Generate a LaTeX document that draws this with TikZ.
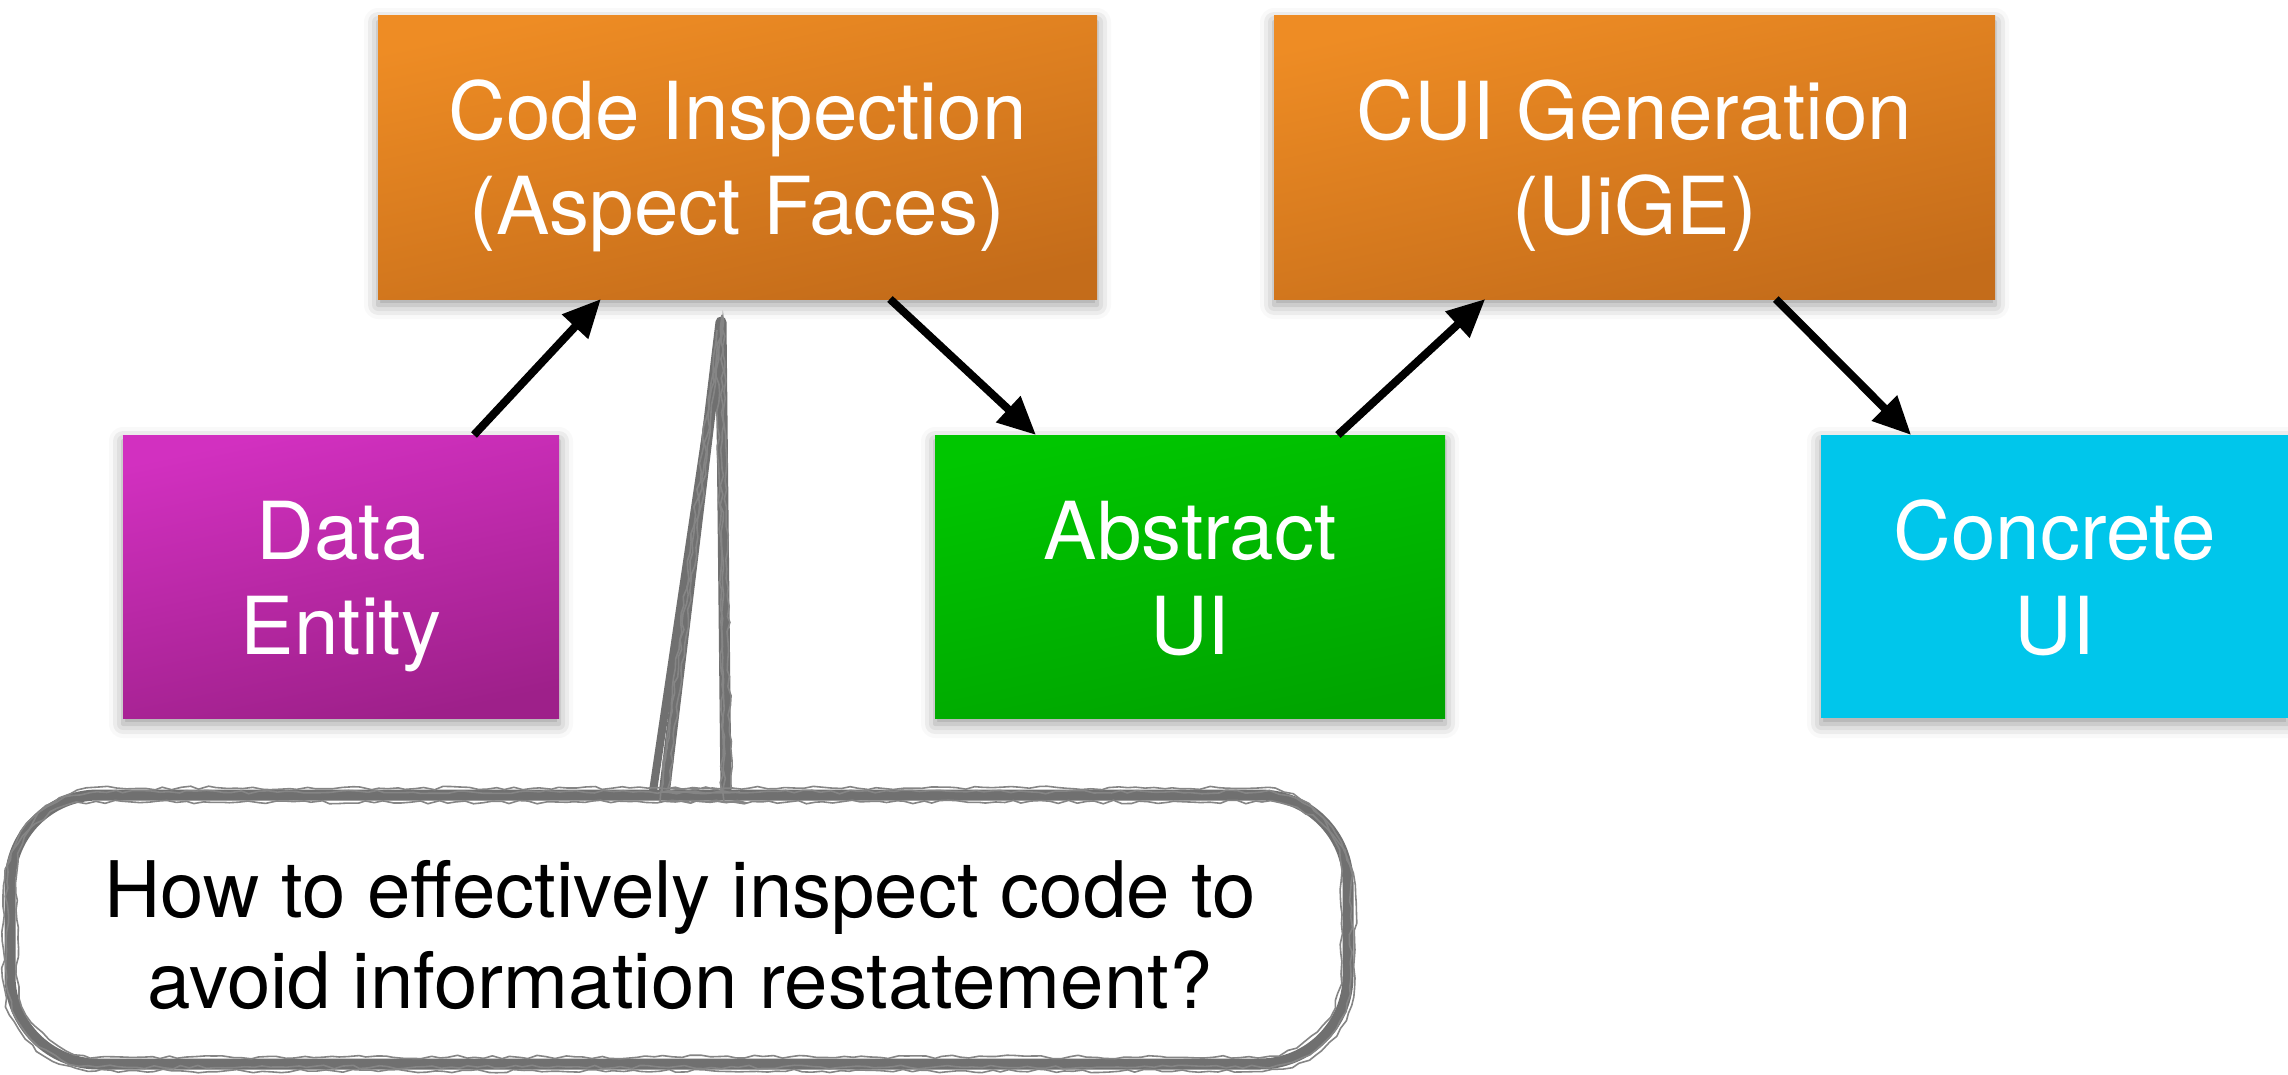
\documentclass[tikz,border=0pt]{standalone}
\usepackage{fontspec}
\setmainfont{TeX Gyre Heros}
\usetikzlibrary{arrows.meta,shadows.blur,decorations.pathmorphing,calc}
\definecolor{orA}{RGB}{238,140,36}
\definecolor{orB}{RGB}{196,108,26}
\definecolor{mgA}{RGB}{210,48,192}
\definecolor{mgB}{RGB}{158,32,138}
\definecolor{grA}{RGB}{0,198,0}
\definecolor{grB}{RGB}{0,164,0}
\definecolor{cyA}{RGB}{0,198,235}
\definecolor{bubgray}{RGB}{112,112,112}
\newcommand{\twoline}[2]{\raisebox{-11pt}[\height][\depth]{\begin{tabular}{@{}c@{}}#1\\#2\end{tabular}}}
\begin{document}
\begin{tikzpicture}[x=1pt,y=-1pt,
  box/.style={rectangle, inner sep=0pt, outer sep=0pt, minimum height=283pt,
    text=white, font=\fontsize{80}{95}\selectfont,
    blur shadow={shadow xshift=0pt, shadow yshift=-6pt, shadow blur radius=14pt, shadow opacity=40}},
  orbox/.style={box, top color=orA, bottom color=orB, shading angle=12},
  conn/.style={line width=8pt, -{Triangle[length=38pt,width=34pt]}},
  bub/.style={draw=bubgray, line width=11pt, line join=round, fill=white},
  sketch/.style={draw=bubgray!85, line width=1.6pt, decorate,
    decoration={random steps, segment length=9pt, amplitude=1.8pt}}]
\useasboundingbox (0,0) rectangle (2288,1075);

% boxes
\node[orbox, minimum width=719pt] (ci) at (737.5,157.5) {\twoline{Code Inspection}{(Aspect Faces)}};
\node[orbox, minimum width=721pt] (cg) at (1634.5,157.5) {\twoline{CUI Generation}{(UiGE)}};
\node[box, minimum width=436pt, top color=mgA, bottom color=mgB, shading angle=12] (de) at (341,576.5) {\twoline{Data}{Entity}};
\node[box, minimum width=510pt, top color=grA, bottom color=grB, shading angle=12] (au) at (1190,576.5) {\twoline{Abstract}{UI}};
\node[box, minimum width=467pt, fill=cyA] (cu) at (2054.5,576.5) {\twoline{Concrete}{UI}};

% connectors
\draw[conn] ($(de.north west)!0.805!(de.north east)$) -- ($(ci.south west)!0.31!(ci.south east)$);
\draw[conn] ($(ci.south west)!0.712!(ci.south east)$) -- ($(au.north west)!0.198!(au.north east)$);
\draw[conn] ($(au.north west)!0.79!(au.north east)$) -- ($(cg.south west)!0.293!(cg.south east)$);
\draw[conn] ($(cg.south west)!0.696!(cg.south east)$) -- ($(cu.north west)!0.193!(cu.north east)$);

% callout bubble
\pgfmathsetseed{7}
\path[bub] (664,795) -- (721,322) -- (726,795) -- (727,795) [rounded corners=88pt] -- (1348,795) -- (1348,1064) -- (10,1064) -- (10,795) -- (650,795) [sharp corners] -- cycle;
\draw[bubgray, line width=8pt, line join=round] (652,798) -- (708,420);
\path[sketch] (660,802) -- (717,330) -- (724,802) -- (725,802) [rounded corners=93pt] -- (1355,802) -- (1355,1071) -- (3,1071) -- (3,802) -- (650,802) [sharp corners] -- cycle;
\path[sketch] (668,788) -- (723,318) -- (731,788) -- (732,788) [rounded corners=83pt] -- (1341,788) -- (1341,1057) -- (17,1057) -- (17,788) -- (650,788) [sharp corners] -- cycle;
\path[sketch] (662,792) -- (722,315) -- (722,792) -- (723,792) [rounded corners=90pt] -- (1351,792) -- (1351,1067) -- (7,1067) -- (7,792) -- (650,792) [sharp corners] -- cycle;
\node[font=\fontsize{78}{91}\selectfont, align=center, text=black] (q) at (680,935) {How to effectively inspect code to\\avoid information restatement?};
\end{tikzpicture}
\end{document}
